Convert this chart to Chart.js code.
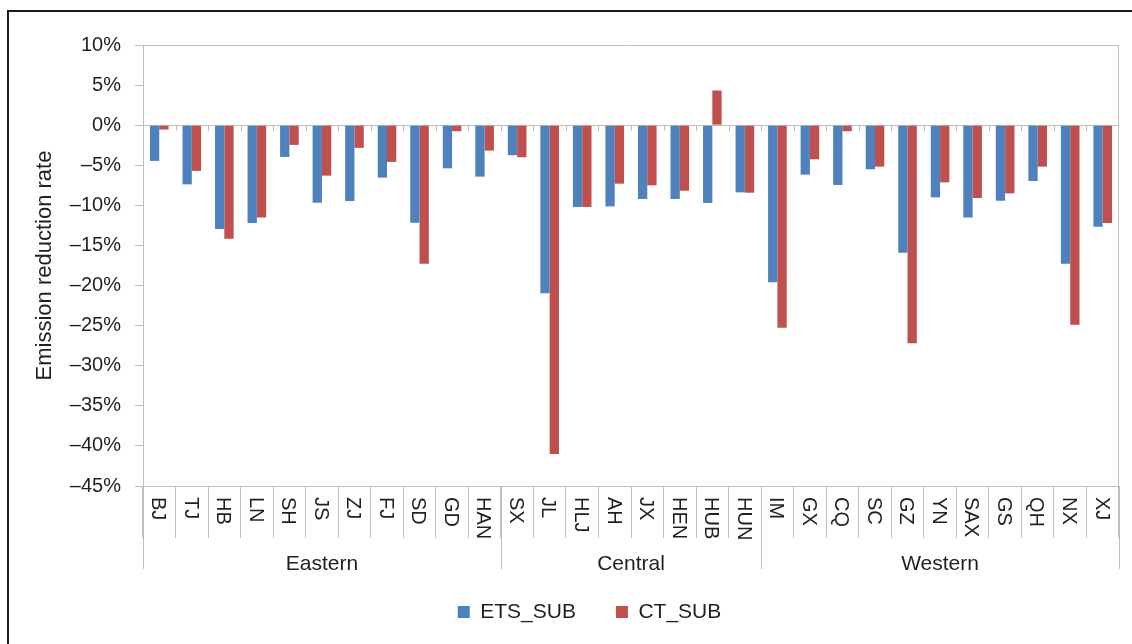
<!DOCTYPE html>
<html><head><meta charset="utf-8">
<script src="https://cdn.jsdelivr.net/npm/chart.js@4/dist/chart.umd.min.js"></script>
<style>
html,body{margin:0;padding:0;background:#fff;overflow:hidden;}
#wrap{position:relative;width:1132px;height:644px;}
#frame{position:absolute;left:7px;top:10px;right:-4px;bottom:-4px;border-left:2px solid #1a1a1a;border-top:2px solid #1a1a1a;pointer-events:none;}
canvas{display:block;}
</style></head><body>
<div id="wrap"><canvas id="c" width="1132" height="644"></canvas><div id="frame"></div></div>
<script>
// ---- data ----
const categories = ['BJ','TJ','HB','LN','SH','JS','ZJ','FJ','SD','GD','HAN',
  'SX','JL','HLJ','AH','JX','HEN','HUB','HUN',
  'IM','GX','CQ','SC','GZ','YN','SAX','GS','QH','NX','XJ'];
const groupNames = ['Eastern','Central','Western'];
const groupSizes = [11, 8, 11];
const etsSub = [-4.46,-7.38,-12.96,-12.2,-3.96,-9.67,-9.46,-6.54,-12.17,-5.38,-6.42,
  -3.75,-20.96,-10.2,-10.13,-9.2,-9.2,-9.7,-8.38,
  -19.6,-6.17,-7.46,-5.5,-15.92,-9.0,-11.5,-9.42,-6.96,-17.29,-12.67];
const ctSub = [-0.54,-5.7,-14.17,-11.5,-2.46,-6.29,-2.83,-4.58,-17.29,-0.75,-3.17,
  -4.0,-41.0,-10.2,-7.29,-7.5,-8.17,4.33,-8.42,
  -25.25,-4.25,-0.75,-5.17,-27.2,-7.13,-9.08,-8.5,-5.17,-24.88,-12.21];
const seriesNames = ['ETS_SUB','CT_SUB'];
const yMin = -45, yMax = 10, yStep = 5;
const yTitle = 'Emission reduction rate';

// ---- style ----
const FONT = '"Liberation Sans", Arial, sans-serif';
const GRAY = '#BFBFBF';
const TEXT = '#1f1f1f';
const CLEAR = 'rgba(0,0,0,0)';
const PLOT_BOTTOM = 486;
const LEGEND_PAD = 40;

const groupPlugin = {
  id: 'groups',
  afterLayout(chart) {
    const lg = chart.legend;
    if (lg) {
      lg.left = 60; lg.right = 1119;
      lg.top = 612 - LEGEND_PAD - 10.5;
      lg.bottom = lg.top + lg.height + 40;
    }
  },
  afterDraw(chart) {
    const ctx = chart.ctx, xs = chart.scales.x, ys = chart.scales.y, ca = chart.chartArea;
    const step = xs.getPixelForValue(1) - xs.getPixelForValue(0);
    const edge = i => xs.getPixelForValue(i) - step / 2;
    const zeroY = ys.getPixelForValue(0);
    ctx.save();
    ctx.strokeStyle = GRAY; ctx.lineWidth = 1;
    ctx.beginPath();
    for (let i = 1; i < categories.length; i++) {
      const x = Math.round(edge(i)) + 0.5;
      ctx.moveTo(x, zeroY); ctx.lineTo(x, zeroY + 6);
    }
    ctx.stroke();
    const bounds = [0]; let acc = 0;
    groupSizes.forEach(n => { acc += n; bounds.push(acc); });
    ctx.beginPath();
    bounds.forEach(b => {
      const x = Math.round(edge(b)) + 0.5;
      ctx.moveTo(x, ca.bottom); ctx.lineTo(x, ca.bottom + 83);
    });
    ctx.stroke();
    ctx.fillStyle = TEXT;
    ctx.font = '20px ' + FONT;
    ctx.textAlign = 'left'; ctx.textBaseline = 'alphabetic';
    categories.forEach((c, i) => {
      const x = xs.getPixelForValue(i);
      ctx.save();
      ctx.translate(x - 7.2, ca.bottom + 11);
      ctx.rotate(Math.PI / 2);
      ctx.fillText(c, 0, 0);
      ctx.restore();
    });
    ctx.font = '21px ' + FONT;
    ctx.textAlign = 'center'; ctx.textBaseline = 'middle';
    groupNames.forEach((g, k) => {
      const x = (edge(bounds[k]) + edge(bounds[k + 1])) / 2;
      ctx.fillText(g, x, ca.bottom + 78);
    });
    ctx.restore();
  }
};

new Chart(document.getElementById('c'), {
  type: 'bar',
  data: {
    labels: categories,
    datasets: [
      { label: seriesNames[0], data: etsSub, backgroundColor: '#4F81BD', borderWidth: 0 },
      { label: seriesNames[1], data: ctSub, backgroundColor: '#C0504D', borderWidth: 0 }
    ]
  },
  options: {
    responsive: false,
    animation: false,
    devicePixelRatio: 1,
    layout: { padding: { left: 0, top: 45, right: 13, bottom: 0 } },
    datasets: { bar: { categoryPercentage: 0.572, barPercentage: 1.0 } },
    plugins: {
      tooltip: { enabled: false },
      legend: {
        position: 'bottom',
        labels: {
          boxWidth: 12, boxHeight: 12, padding: LEGEND_PAD, color: TEXT,
          font: { family: FONT, size: 21 }
        }
      }
    },
    scales: {
      x: {
        offset: true,
        grid: {
          offset: true, drawOnChartArea: true, drawTicks: true, tickLength: 52,
          color: c => c.tick ? CLEAR : GRAY,
          tickColor: GRAY, lineWidth: 1
        },
        border: { display: true, color: GRAY, width: 1 },
        ticks: { display: false },
        afterFit: s => {
          const lh = (s.chart.legend && s.chart.legend.height) || 0;
          s.height = 644 - PLOT_BOTTOM - lh;
        }
      },
      y: {
        min: yMin, max: yMax,
        grid: {
          drawOnChartArea: true, drawTicks: true, tickLength: 8,
          color: c => (c.tick && (c.tick.value === 0 || c.tick.value === yMax)) ? GRAY : CLEAR,
          tickColor: GRAY, lineWidth: 1
        },
        border: { display: true, color: GRAY, width: 1 },
        ticks: {
          stepSize: yStep, padding: 14, color: TEXT,
          font: { family: FONT, size: 20 },
          callback: v => (v < 0 ? '\u2013' + Math.abs(v) : String(v)) + '%'
        },
        title: {
          display: true, text: yTitle, color: TEXT,
          font: { family: FONT, size: 22 },
          padding: { top: 32, bottom: 0 }
        },
        afterFit: s => { s.width = 143; }
      }
    }
  },
  plugins: [groupPlugin]
});
</script>
</body></html>
